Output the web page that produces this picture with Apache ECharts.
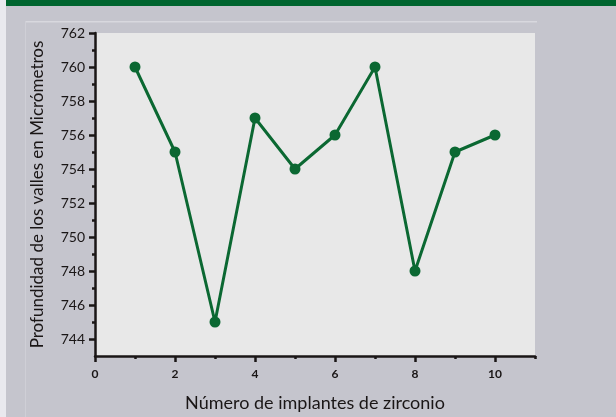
<!DOCTYPE html>
<html>
<head>
<meta charset="utf-8">
<script src="https://cdn.jsdelivr.net/npm/echarts@6/dist/echarts.min.js"></script>
<style>
  html, body { margin: 0; padding: 0; background: #c5c5cd; }
  #chart { width: 616px; height: 417px; }
</style>
</head>
<body>
<div id="chart"></div>
<script>
// implant number vs valley depth
const implants = [1, 2, 3, 4, 5, 6, 7, 8, 9, 10]
const depths = [760, 755, 745, 757, 754, 756, 760, 748, 755, 756]
const yMajorTicks = [744, 746, 748, 750, 752, 754, 756, 758, 760, 762]
const yMinorTicks = [745, 747, 749, 751, 753, 755, 757, 759, 761]
const xMajorTicks = [0, 2, 4, 6, 8, 10]
const xMinorTicks = [1, 3, 5, 7, 9, 11]

const chart = echarts.init(document.getElementById('chart'))
const font = 'Lato'
const axisColor = '#1a1616'
const green = '#0b6832'

const option = {
  backgroundColor: '#c5c5cd',
  animation: false,
  textStyle: { fontFamily: font },
  graphic: [
    { type: 'rect', shape: { x: 0, y: 0, width: 6, height: 417 }, style: { fill: '#e9e9ee' } },
    { type: 'rect', shape: { x: 6, y: 0, width: 610, height: 6 }, style: { fill: '#00652f' } },
    { type: 'rect', shape: { x: 25, y: 21, width: 512, height: 1.5 }, style: { fill: '#d8d8de' } },
    { type: 'rect', shape: { x: 25, y: 21, width: 1, height: 396 }, style: { fill: '#cfcfd6' } },
  ],
  grid: {
    left: 95,
    top: 33,
    right: 81,
    bottom: 60,
    show: true,
    backgroundColor: '#e8e8e8',
    borderWidth: 0,
  },
  xAxis: [
    {
      type: 'value',
      min: 0,
      max: 11,
      position: 'bottom',
      name: 'Número de implantes de zirconio',
      nameLocation: 'middle',
      nameGap: 38,
      nameTextStyle: { fontSize: 18, color: axisColor, fontFamily: font },
      axisLine: { show: true, lineStyle: { color: axisColor, width: 2.5 } },
      axisTick: { show: true, customValues: xMajorTicks, length: 6, lineStyle: { color: axisColor, width: 2.5 } },
      axisLabel: { customValues: xMajorTicks, margin: 12, fontSize: 12, color: axisColor, fontWeight: 'bold' },
      splitLine: { show: false },
    },
    {
      type: 'value',
      min: 0,
      max: 11,
      position: 'bottom',
      axisLine: { show: false },
      axisTick: { show: true, customValues: xMinorTicks, length: 3, lineStyle: { color: axisColor, width: 2.5 } },
      axisLabel: { show: false },
      splitLine: { show: false },
    },
  ],
  yAxis: [
    {
      type: 'value',
      min: 743,
      max: 762,
      position: 'left',
      name: 'Profundidad de los valles en Micrómetros',
      nameLocation: 'middle',
      nameGap: 49,
      nameTextStyle: { fontSize: 17, color: axisColor, fontFamily: font },
      axisLine: { show: true, lineStyle: { color: axisColor, width: 2.5 } },
      axisTick: { show: true, customValues: yMajorTicks, length: 6, lineStyle: { color: axisColor, width: 2.5 } },
      axisLabel: { customValues: yMajorTicks, margin: 10, fontSize: 14, color: axisColor },
      splitLine: { show: false },
    },
    {
      type: 'value',
      min: 743,
      max: 762,
      position: 'left',
      axisLine: { show: false },
      axisTick: { show: true, customValues: yMinorTicks, length: 3, lineStyle: { color: axisColor, width: 2.5 } },
      axisLabel: { show: false },
      splitLine: { show: false },
    },
  ],
  series: [
    {
      type: 'line',
      xAxisIndex: 0,
      yAxisIndex: 0,
      data: implants.map((x, i) => [x, depths[i]]),
      symbol: 'circle',
      symbolSize: 11,
      lineStyle: { color: green, width: 3 },
      itemStyle: { color: green },
    },
  ],
}

chart.setOption(option)
</script>
</body>
</html>
